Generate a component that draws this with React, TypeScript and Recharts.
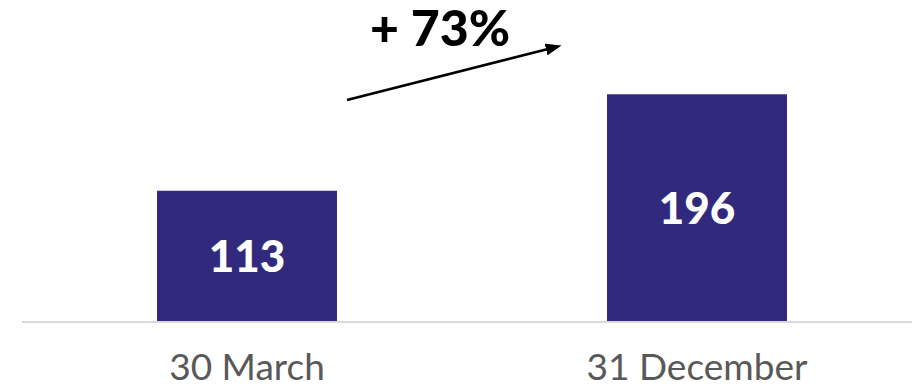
import { BarChart, Bar, XAxis, YAxis, LabelList, Customized } from "recharts";

const periods = ["30 March", "31 December"];
const counts = [113, 196];

const data = periods.map((period, i) => ({ period, count: counts[i] }));
const growth = Math.round(((counts[1] - counts[0]) / counts[0]) * 100);

function GrowthArrow() {
  return (
    <g>
      <defs>
        <marker id="head" markerWidth="16" markerHeight="12" refX="2" refY="6" orient="auto" markerUnits="userSpaceOnUse">
          <path d="M0,0 L16,6 L0,12 Z" fill="#000" />
        </marker>
      </defs>
      <line x1={347} y1={100} x2={548} y2={49} stroke="#000" strokeWidth={2.5} markerEnd="url(#head)" />
      <text x={440} y={46} textAnchor="middle" fontFamily="Lato" fontWeight={900} fontSize={50} fill="#000">
        {`+ ${growth}%`}
      </text>
    </g>
  );
}

export default function App() {
  return (
    <div style={{ position: "absolute", left: 0, top: 0, width: 912, height: 386, overflow: "hidden", background: "#fff" }}>
      <BarChart width={922} height={386} data={data} margin={{ top: 0, right: 0, left: 22, bottom: 0 }}>
        <XAxis
          dataKey="period"
          height={64}
          axisLine={{ stroke: "#d9d9d9", strokeWidth: 2 }}
          tickLine={false}
          tickSize={0}
          tickMargin={32}
          tick={{ fontFamily: "Lato", fontSize: 37, fill: "#595959" }}
        />
        <YAxis hide domain={[0, 277]} />
        <Bar dataKey="count" fill="#312a7c" barSize={180} isAnimationActive={false}>
          <LabelList
            dataKey="count"
            position="center"
            fill="#fff"
            fontFamily="Lato"
            fontWeight={900}
            fontSize={44}
          />
        </Bar>
        <Customized component={GrowthArrow} />
      </BarChart>
    </div>
  );
}
